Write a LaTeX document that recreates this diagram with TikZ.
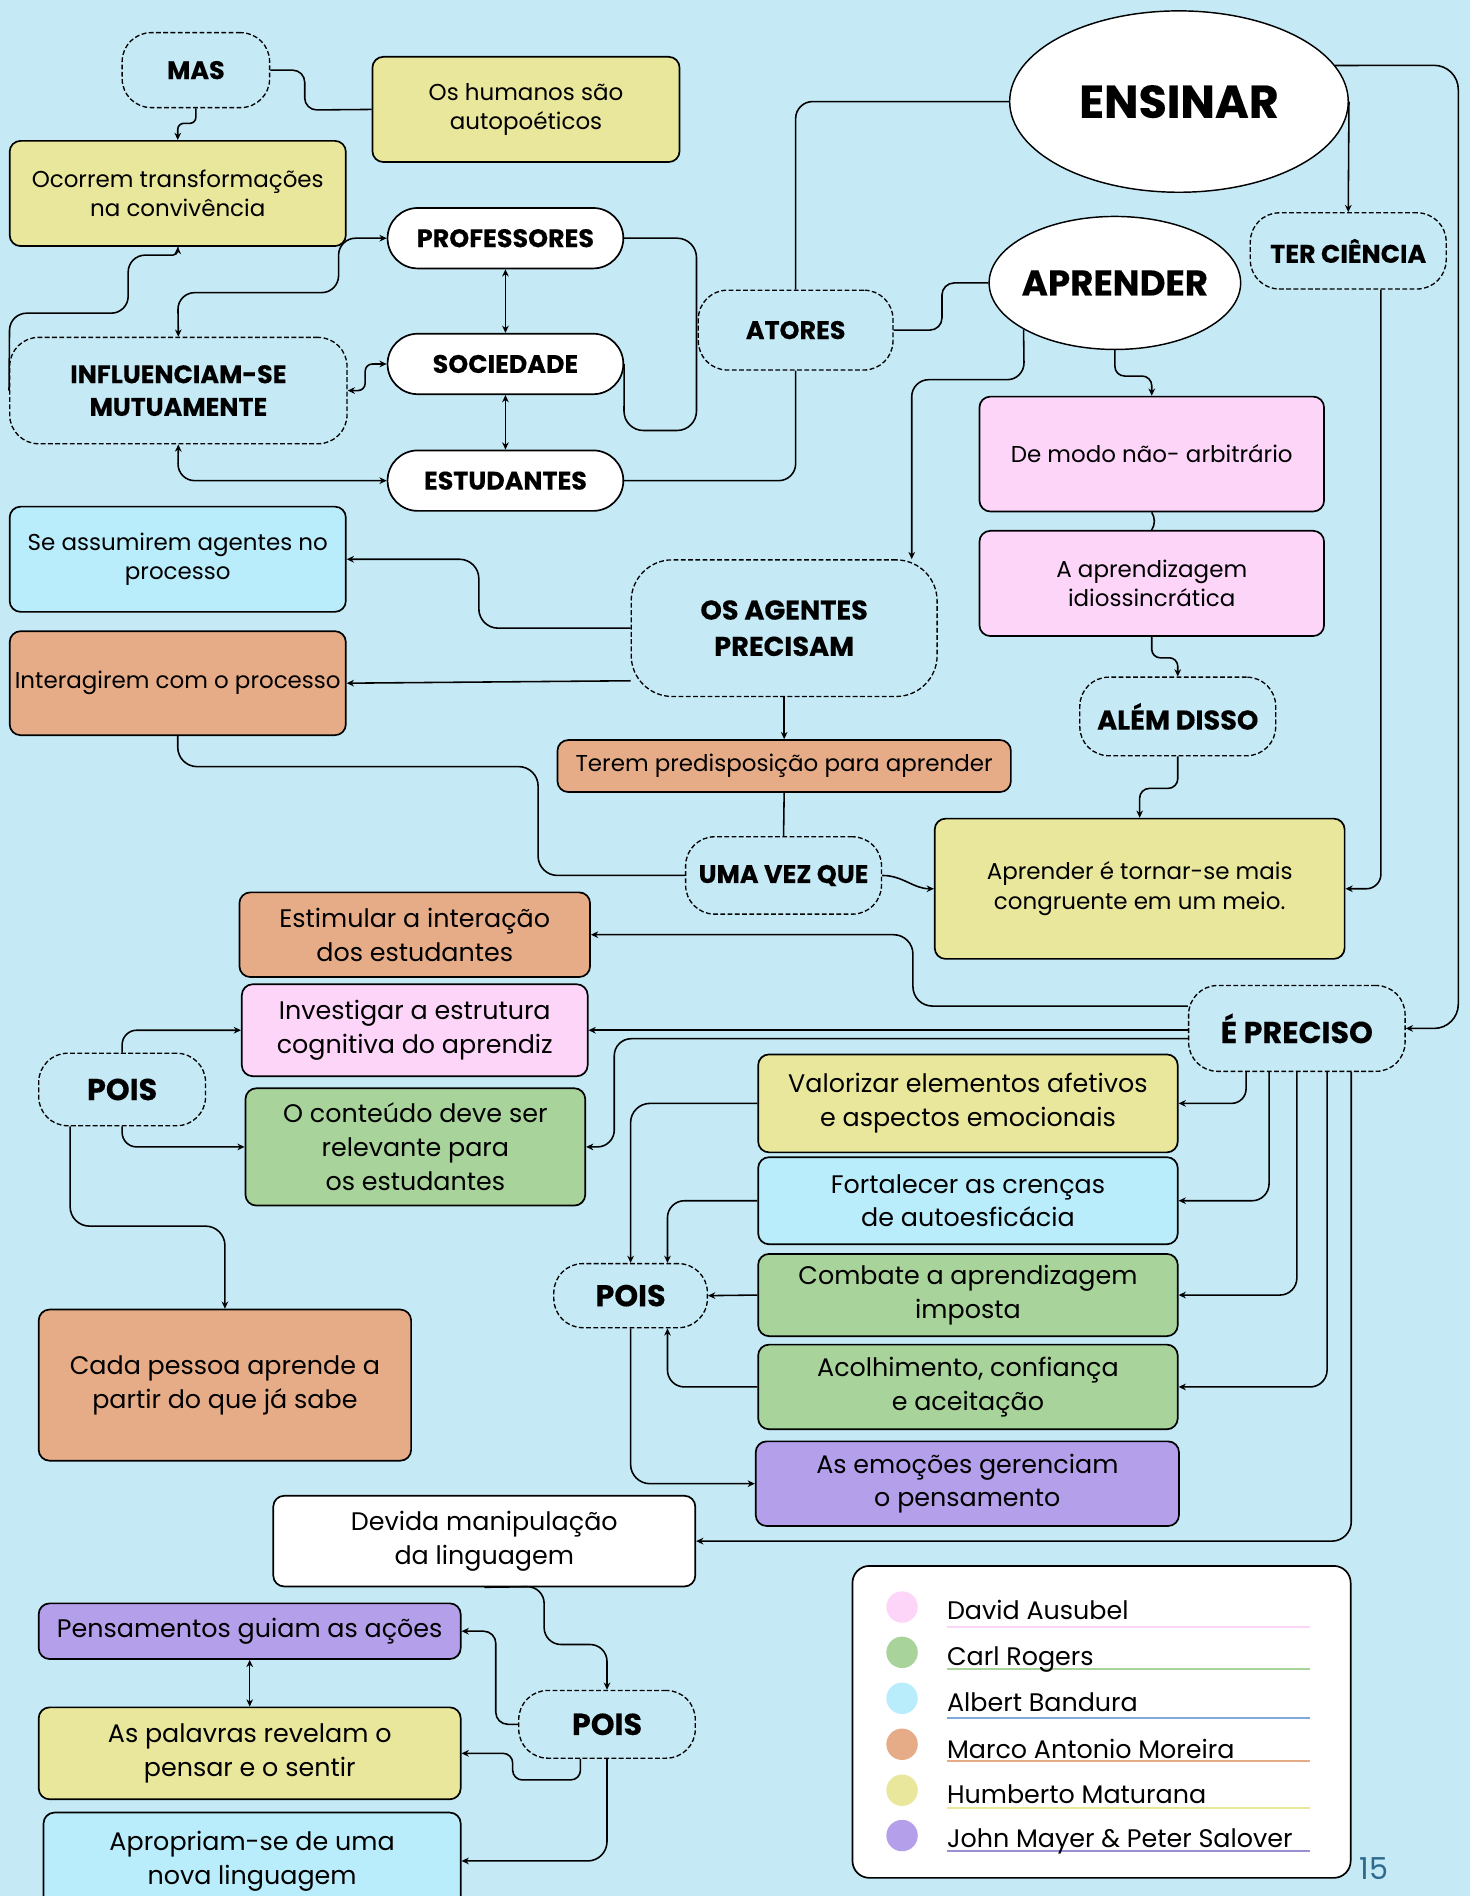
\documentclass[tikz,border=0pt]{standalone}
\usepackage{fontspec}
\setmainfont{Poppins}[BoldFeatures={FakeBold=0.3}]
\newfontfamily\legfont{Poppins}
\usetikzlibrary{arrows.meta,shapes.geometric,calc}
\definecolor{bgc}{HTML}{C5EAF6}
\definecolor{cyel}{HTML}{E9E79C}
\definecolor{cpink}{HTML}{FDD5F9}
\definecolor{cblue}{HTML}{BAEDFC}
\definecolor{corange}{HTML}{E6AC87}
\definecolor{cgreen}{HTML}{A8D39A}
\definecolor{cpurple}{HTML}{B49FEA}
\definecolor{ublue}{HTML}{7EA9DA}
\definecolor{upurple}{HTML}{9A8FD0}
\definecolor{pagenum}{HTML}{2E6A8E}
\newcommand{\fsA}{\fontsize{19}{24.5}\selectfont}
\newcommand{\fsB}{\fontsize{21}{28}\selectfont}
\newcommand{\fsH}{\bfseries\fontsize{21}{27}\selectfont}
\newcommand{\fsHH}{\bfseries\fontsize{22.5}{30}\selectfont}
\newcommand{\fsP}{\bfseries\fontsize{25}{28}\selectfont}
\begin{document}
\begin{tikzpicture}[x=1pt,y=-1pt,
  box/.style={draw=black, line width=1.4pt, rounded corners=9pt, align=center, inner sep=2pt, font=\fsA},
  bigbox/.style={box, font=\fsB},
  pill/.style={draw=black, line width=1.4pt, fill=white, rounded corners=25pt, font=\fsH, minimum width=195pt, minimum height=50pt, inner sep=0pt},
  blob/.style={draw=black, line width=1.1pt, dash pattern=on 4pt off 2pt, rounded corners=24pt, align=center, font=\fsH, inner sep=0pt},
  ell/.style={ellipse, draw=black, line width=1.2pt, fill=white, inner sep=0pt},
  sz/.style 2 args={minimum width=#1pt, minimum height=#2pt},
  conn/.style={line width=1.3pt, rounded corners=14pt},
  arr/.style={conn, -{Stealth[length=6pt,width=5.5pt]}},
  darr/.style={conn, {Stealth[length=6pt,width=5.5pt]}-{Stealth[length=6pt,width=5.5pt]}},
  legtext/.style={anchor=base west, inner sep=0pt, font=\legfont\fontsize{21}{21}\selectfont},
  legdot/.style={circle, inner sep=0pt, minimum size=26pt},
]
\fill[bgc] (0,0) rectangle (1216,1568);
\useasboundingbox (0,0) rectangle (1216,1568);

% ---------- nodes ----------
\node[box, fill=cyel, sz={254}{87}] (hum) at (435,90.5) {Os humanos são\\autopoéticos};
\node[box, fill=cyel, sz={278}{87}] (occ) at (147,160) {Ocorrem transformações\\na convivência};
\node[blob, sz={122}{62}] (mas) at (162,58) {MAS};
\node[pill] (prof) at (418,197) {PROFESSORES};
\node[pill] (soc) at (418,301) {SOCIEDADE};
\node[pill] (est) at (418,397.5) {ESTUDANTES};
\node[blob, sz={279}{88}] (inf) at (147.5,323) {INFLUENCIAM-SE\\MUTUAMENTE};
\node[blob, sz={161}{66}] (ato) at (658,273) {ATORES};
\node[ell, minimum width=280pt, minimum height=150pt, font=\bfseries\fontsize{38}{42}\selectfont] (ens) at (975,84) {ENSINAR};
\node[ell, inner xsep=-6pt, minimum width=208pt, minimum height=110pt, font=\bfseries\fontsize{29.5}{32}\selectfont] (apr) at (922,234) {APRENDER};
\node[blob, sz={162}{63}] (ter) at (1115,207.5) {TER CIÊNCIA};
\node[box, fill=cpink, sz={285}{95}] (dm) at (952.5,375.5) {De modo não- arbitrário};
\node[box, fill=cpink, sz={285}{87}] (aa) at (952.5,482.5) {A aprendizagem\\idiossincrática};
\node[blob, sz={162}{65}, font=\fsHH] (ad) at (974,592.5) {ALÉM DISSO};
\node[box, fill=cyel, sz={339}{116}] (apt) at (942.5,735) {Aprender é tornar-se mais\\congruente em um meio.};
\node[blob, sz={253}{113}, rounded corners=34pt, font=\fsHH] (oa) at (648.5,519.5) {OS AGENTES\\PRECISAM};
\node[box, fill=cblue, sz={278}{87}] (sa) at (147,462.5) {Se assumirem agentes no\\processo};
\node[box, fill=corange, sz={278}{86}] (int) at (147,565) {Interagirem com o processo};
\node[box, fill=corange, sz={375}{43}] (tpa) at (648.5,633.5) {Terem predisposição para aprender};
\node[blob, sz={162}{64}] (uvq) at (648,724) {UMA VEZ QUE};
\node[bigbox, fill=corange, sz={290}{70}] (sti) at (343,773) {Estimular a interação\\dos estudantes};
\node[bigbox, fill=cpink, sz={286}{76}] (inv) at (343,852) {Investigar a estrutura\\cognitiva do aprendiz};
\node[blob, sz={138}{60}, font=\fsP] (p1) at (101,901) {POIS};
\node[bigbox, fill=cgreen, sz={281}{97}] (cont) at (343.5,948.5) {O conteúdo deve ser\\relevante para\\os estudantes};
\node[bigbox, fill=corange, sz={308}{125}] (cada) at (186,1145.5) {Cada pessoa aprende a\\partir do que já sabe};
\node[blob, sz={179}{71}, font=\fsP] (ep) at (1072.5,850.5) {É PRECISO};
\node[bigbox, fill=cyel, sz={347}{81}] (val) at (800.5,912.5) {Valorizar elementos afetivos\\e aspectos emocionais};
\node[bigbox, fill=cblue, sz={347}{72}] (fort) at (800.5,993) {Fortalecer as crenças\\de autoesficácia};
\node[bigbox, fill=cgreen, sz={347}{68}] (comb) at (800.5,1071) {Combate a aprendizagem\\imposta};
\node[bigbox, fill=cgreen, sz={347}{70}] (aco) at (800.5,1147) {Acolhimento, confiança\\e aceitação};
\node[bigbox, fill=cpurple, sz={350}{70}] (emo) at (800,1227) {As emoções gerenciam\\o pensamento};
\node[blob, sz={127}{53}, font=\fsP] (p2) at (521.5,1071.5) {POIS};
\node[bigbox, fill=white, sz={349}{75}] (dev) at (400.5,1274.5) {Devida manipulação\\da linguagem};
\node[bigbox, fill=cpurple, sz={349}{46}] (pens) at (206.5,1349) {Pensamentos guiam as ações};
\node[bigbox, fill=cyel, sz={349}{76}] (pal) at (206.5,1450) {As palavras revelam o\\pensar e o sentir};
\node[bigbox, fill=cblue, sz={345}{80}] (apr2) at (208.5,1539) {Apropriam-se de uma\\nova linguagem};
\node[blob, sz={146}{56}, font=\fsP] (p3) at (502,1426) {POIS};

% ---------- connectors ----------
\draw[conn, rounded corners=10pt] (mas.east) -- (252,58) -- (252,91) -- (hum.west);
\draw[arr, rounded corners=5pt] (mas.south) -- (162,102) -- (147,102) -- (occ.north);
\draw[arr] (inf.west) [rounded corners=14pt] -- (8,259) -- (106,259) -- (106,211) [rounded corners=4pt] -- (147,211) -- (occ.south);
\draw[darr] (inf.north) -- (147,242) -- (280,242) -- (280,197) -- (prof.west);
\draw[darr, rounded corners=6pt] (inf.east) -- (302,323) -- (302,301) -- (soc.west);
\draw[darr] (inf.south) -- (147,397.5) -- (est.west);
\draw[darr] (prof.south) -- (soc.north);
\draw[darr] (soc.south) -- (est.north);
\draw[conn, rounded corners=16pt] (prof.east) -- (576,197) -- (576,356) -- (516,356) -- (soc.east);
\draw[conn] (ens.west) -- (658,84) -- (ato.north);
\draw[conn] (ato.south) -- (658,397.5) -- (est.east);
\draw[conn, rounded corners=10pt] (ato.east) -- (779,273) -- (779,234) -- (apr.west);
\draw[arr] (ens.east) -- (ter.north);
\draw[arr, rounded corners=20pt] (ens.13) -- (1206,54) -- (1206,850.5) -- (ep.east);
\draw[arr, rounded corners=12pt] ([xshift=27pt]ter.south) -- (1142,735) -- (apt.east);
\draw[arr, rounded corners=8pt] (apr.south) -- (922,311) -- (952.5,311) -- (dm.north);
\draw[arr, rounded corners=14pt] (apr.207) -- (847,314) -- (754,314) -- (oa.north -| 754,0);
\draw[conn] (dm.south) to[out=-60,in=60] (aa.north);
\draw[arr, rounded corners=7pt] (aa.south) -- (952.5,544) -- (974,544) -- (ad.north);
\draw[arr, rounded corners=8pt] (ad.south) -- (974,652) -- (942.5,652) -- (apt.north);
\draw[arr] (oa.south) -- (tpa.north);
\draw[conn] (tpa.south) -- (uvq.north);
\draw[arr] (uvq.east) to[out=0,in=180] (apt.west);
\draw[conn, rounded corners=16pt] (uvq.west) -- (445,724) -- (445,634) -- (147,634) -- (int.south);
\draw[arr, rounded corners=16pt] (oa.west) -- (396,519.5) -- (396,462.5) -- (sa.east);
\draw[arr] (oa.west |- 0,563) -- (int.east);
\draw[arr, rounded corners=16pt] (ep.west |- 0,832) -- (755,832) -- (755,773) -- (sti.east);
\draw[arr] (ep.west |- inv.east) -- (inv.east);
\draw[arr, rounded corners=14pt] (ep.west |- 0,859) -- (508,859) -- (508,948.5) -- (cont.east);
\draw[arr, rounded corners=12pt] ([xshift=-42pt]ep.south) -- (1030.5,912.5) -- (val.east);
\draw[arr, rounded corners=14pt] ([xshift=-23pt]ep.south) -- (1049.5,993) -- (fort.east);
\draw[arr, rounded corners=14pt] (ep.south) -- (1072.5,1071) -- (comb.east);
\draw[arr, rounded corners=14pt] ([xshift=25pt]ep.south) -- (1097.5,1147) -- (aco.east);
\draw[arr, rounded corners=16pt] ([xshift=45pt]ep.south) -- (1117.5,1274.5) -- (dev.east);
\draw[arr, rounded corners=16pt] (val.west) -- (521.5,912.5) -- (p2.north);
\draw[arr, rounded corners=14pt] (fort.west) -- (552,993) -- (p2.north -| 552,0);
\draw[arr] (comb.west) -- (p2.east);
\draw[arr, rounded corners=14pt] (aco.west) -- (552,1147) -- (p2.south -| 552,0);
\draw[arr, rounded corners=16pt] (p2.south) -- (521.5,1227) -- (emo.west);
\draw[arr, rounded corners=12pt] (p1.north) -- (101,852) -- (inv.west);
\draw[arr, rounded corners=12pt] (p1.south) -- (101,948.5) -- (cont.west);
\draw[arr, rounded corners=16pt] (p1.south -| 58,0) -- (58,1014) -- (186,1014) -- (cada.north);
\draw[arr, rounded corners=14pt] (dev.south) -- (450,1312) -- (450,1360) -- (502,1360) -- (p3.north);
\draw[arr, rounded corners=10pt] (p3.west) -- (410,1426) -- (410,1349) -- (pens.east);
\draw[arr, rounded corners=8pt] ([xshift=-22pt]p3.south) -- (480,1472) -- (424,1472) -- (424,1450) -- (pal.east);
\draw[arr, rounded corners=16pt] (p3.south) -- (502,1539) -- (apr2.east);
\draw[darr] (pens.south) -- (pal.north);

% ---------- legend ----------
\node[draw=black, line width=1.4pt, fill=white, rounded corners=14pt, sz={412}{258}] (leg) at (911,1424) {};
\node[legdot, fill=cpink] (d1) at (746,1329) {};
\node[legdot, fill=cgreen] (d2) at (746,1366.5) {};
\node[legdot, fill=cblue] (d3) at (746,1404.5) {};
\node[legdot, fill=corange] (d4) at (746,1442.5) {};
\node[legdot, fill=cyel] (d5) at (746,1480.5) {};
\node[legdot, fill=cpurple] (d6) at (746,1518) {};
\draw[cpink, line width=1.8pt] (783,1345.5) -- (1083,1345.5);
\draw[cgreen, line width=1.8pt] (783,1380.5) -- (1083,1380.5);
\draw[ublue, line width=1.8pt] (783,1421) -- (1083,1421);
\draw[corange, line width=1.8pt] (783,1456) -- (1083,1456);
\draw[cyel, line width=1.8pt] (783,1495.5) -- (1083,1495.5);
\draw[upurple, line width=1.8pt] (783,1531) -- (1083,1531);
\node[legtext] (t1) at (783,1339.5) {David Ausubel};
\node[legtext] (t2) at (783,1377) {Carl Rogers};
\node[legtext] (t3) at (783,1415) {Albert Bandura};
\node[legtext] (t4) at (783,1454) {Marco Antonio Moreira};
\node[legtext] (t5) at (783,1491.5) {Humberto Maturana};
\node[legtext] (t6) at (783,1528) {John Mayer \& Peter Salover};
\node[anchor=base west, inner sep=0pt, text=pagenum, font=\legfont\fontsize{25}{25}\selectfont] (pg) at (1124,1554) {15};
\end{tikzpicture}
\end{document}
